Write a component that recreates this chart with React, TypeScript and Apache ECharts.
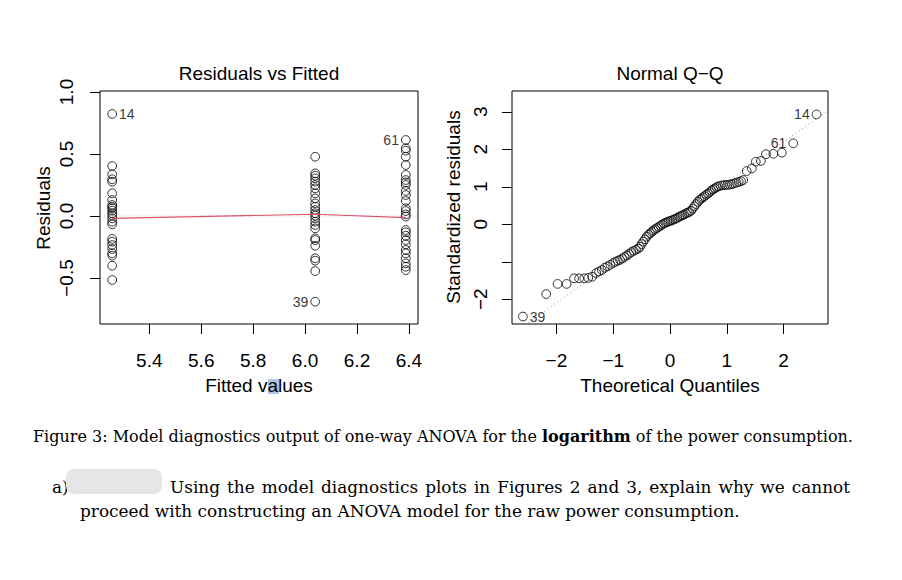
import React, { useEffect, useRef } from "react";
import * as echarts from "echarts";

// ---- Residuals vs Fitted data ----
const fittedLevels = [5.257, 6.039, 6.388];
const residualsGroup1 = [0.823, 0.403, 0.336, 0.296, 0.277, 0.183, 0.129, 0.089, 0.075, 0.062, 0.043, 0.022, 0.003, -0.019, -0.046, -0.067, -0.185, -0.207, -0.234, -0.266, -0.301, -0.32, -0.401, -0.516];
const residualsGroup2 = [0.478, 0.344, 0.325, 0.304, 0.277, 0.25, 0.223, 0.183, 0.142, 0.102, 0.075, 0.048, 0.022, 0.003, -0.019, -0.046, -0.073, -0.1, -0.18, -0.194, -0.24, -0.341, -0.36, -0.444, -0.691];
const residualsGroup3 = [0.613, 0.546, 0.527, 0.478, 0.411, 0.331, 0.29, 0.271, 0.25, 0.202, 0.169, 0.121, 0.062, 0.04, 0.013, -0.005, -0.113, -0.132, -0.159, -0.194, -0.229, -0.274, -0.301, -0.341, -0.382, -0.409, -0.436];
const smoothX = [5.257, 6.039, 6.388];
const smoothY = [-0.019, 0.014, -0.013];
// labelled observations: [group index, residual, id, side]
const residLabels: [number, number, string, string][] = [
  [0, 0.823, "14", "right"],
  [1, -0.691, "39", "left"],
  [2, 0.613, "61", "left"],
];

const leftXTicks = [5.4, 5.6, 5.8, 6.0, 6.2, 6.4];
const leftXTickLabels = ["5.4", "5.6", "5.8", "6.0", "6.2", "6.4"];
const leftYTicks = [-0.5, 0, 0.5, 1.0];
const leftYTickLabels = ["\u22120.5", "0.0", "0.5", "1.0"];

// ---- Normal Q-Q data ----
const qqTheoretical = [-2.59, -2.18, -1.98, -1.82, -1.69, -1.6, -1.51, -1.44, -1.37, -1.3, -1.25, -1.2, -1.15, -1.1, -1.05, -1.0, -0.96, -0.92, -0.88, -0.84, -0.8, -0.76, -0.72, -0.68, -0.64, -0.6, -0.56, -0.53, -0.5, -0.47, -0.44, -0.41, -0.38, -0.35, -0.32, -0.29, -0.26, -0.23, -0.2, -0.17, -0.14, -0.11, -0.08, -0.05, -0.02, 0.01, 0.04, 0.07, 0.1, 0.13, 0.16, 0.19, 0.22, 0.25, 0.28, 0.31, 0.34, 0.37, 0.4, 0.43, 0.46, 0.49, 0.52, 0.55, 0.58, 0.61, 0.64, 0.67, 0.7, 0.73, 0.76, 0.79, 0.82, 0.85, 0.89, 0.93, 0.97, 1.01, 1.05, 1.09, 1.13, 1.17, 1.21, 1.25, 1.29, 1.35, 1.44, 1.51, 1.6, 1.69, 1.82, 1.97, 2.17, 2.58];
const qqSample = [-2.46, -1.86, -1.59, -1.59, -1.44, -1.44, -1.44, -1.43, -1.4, -1.3, -1.26, -1.22, -1.16, -1.12, -1.08, -1.03, -1.0, -0.97, -0.95, -0.91, -0.87, -0.83, -0.79, -0.74, -0.71, -0.68, -0.65, -0.6, -0.53, -0.46, -0.4, -0.33, -0.28, -0.24, -0.2, -0.16, -0.13, -0.1, -0.07, -0.04, -0.01, 0.02, 0.04, 0.06, 0.08, 0.09, 0.11, 0.13, 0.15, 0.17, 0.2, 0.22, 0.24, 0.26, 0.29, 0.31, 0.33, 0.36, 0.42, 0.48, 0.54, 0.6, 0.65, 0.68, 0.72, 0.75, 0.79, 0.82, 0.86, 0.9, 0.93, 0.96, 0.99, 1.01, 1.03, 1.04, 1.05, 1.05, 1.06, 1.07, 1.09, 1.11, 1.13, 1.15, 1.18, 1.42, 1.49, 1.67, 1.69, 1.87, 1.88, 1.91, 2.16, 2.93];
// labelled observations: [index in sorted list, id, side]
const qqLabels: [number, string, string][] = [
  [0, "39", "right"],
  [92, "61", "left"],
  [93, "14", "left"],
];
const qqLineX = [-2.79, 2.79];
const qqLineY = [-2.94, 3.04];

const rightXTicks = [-2, -1, 0, 1, 2];
const rightXTickLabels = ["\u22122", "\u22121", "0", "1", "2"];
const rightYTicks = [-2, -1, 0, 1, 2, 3];
const rightYTickLabels = ["\u22122", "", "0", "1", "2", "3"];

const captionText = "Figure 3: Model diagnostics output of one-way ANOVA for the {b|logarithm} of the power consumption.";
const paraLine1 = "Using the model diagnostics plots in Figures 2 and 3, explain why we cannot";
const paraLine2 = "proceed with constructing an ANOVA model for the raw power consumption.";

const SANS = "'Liberation Sans', Arial, sans-serif";
const SERIF = "'DejaVu Serif', serif";

function labelFor(ticks: number[], labels: string[]) {
  return (v: number) => {
    const i = ticks.findIndex((t) => Math.abs(t - v) < 1e-9);
    return i >= 0 ? labels[i] : "";
  };
}

// justify a line of words between x0 and x1 (like LaTeX)
function justifiedWords(line: string, x0: number, x1: number, y: number, font: string) {
  const words = line.split(" ");
  const ctx = document.createElement("canvas").getContext("2d");
  let widths = words.map((w) => w.length * 9);
  if (ctx) {
    ctx.font = font;
    widths = words.map((w) => ctx.measureText(w).width);
  }
  const total = widths.reduce((a, b) => a + b, 0);
  const gap = (x1 - x0 - total) / (words.length - 1);
  let x = x0;
  return words.map((w, i) => {
    const el = { type: "text", x, y, style: { text: w, font, fill: "#000", align: "left", verticalAlign: "middle" } };
    x += widths[i] + gap;
    return el;
  });
}

const circleStyle = { color: "transparent", borderColor: "#000", borderWidth: 1 };

export default function App() {
  const ref = useRef<HTMLDivElement>(null);
  useEffect(() => {
    if (!ref.current) return;
    const chart = echarts.init(ref.current, undefined, { renderer: "svg" });

    const idLabel = (text: string, pos: string) => ({
      show: true, formatter: text, position: pos, distance: 2, fontSize: 14, fontFamily: SANS, color: "#000",
    });

    const residGroups = [residualsGroup1, residualsGroup2, residualsGroup3];
    const residData: any[] = [];
    residGroups.forEach((g, gi) => {
      g.forEach((r) => {
        const lab = residLabels.find((l) => l[0] === gi && l[1] === r);
        if (lab) residData.push({ value: [fittedLevels[gi], r], label: idLabel(lab[2], lab[3]) });
        else residData.push([fittedLevels[gi], r]);
      });
    });

    const qqData: any[] = qqTheoretical.map((x, i) => {
      const lab = qqLabels.find((l) => l[0] === i);
      if (lab) return { value: [x, qqSample[i]], label: idLabel(lab[1], lab[2]) };
      return [x, qqSample[i]];
    });

    const axisCommon = {
      axisLine: { show: false, onZero: false },
      splitLine: { show: false },
      axisTick: { show: true, length: 10, lineStyle: { color: "#000", width: 1 } },
    };

    const textStyle = (size: number) => ({ fontFamily: SANS, fontSize: size, color: "#000" });
    const paraFont = `16.9px ${SERIF}`;

    chart.setOption({
      animation: false,
      backgroundColor: "#fff",
      grid: [
        { left: 100, top: 91, width: 318, height: 233, show: true, borderColor: "#000", borderWidth: 1, backgroundColor: "transparent" },
        { left: 512, top: 91, width: 316, height: 233, show: true, borderColor: "#000", borderWidth: 1, backgroundColor: "transparent" },
      ],
      xAxis: [
        {
          type: "value", gridIndex: 0, min: 5.21, max: 6.435, ...axisCommon,
          axisTick: { ...axisCommon.axisTick, customValues: leftXTicks },
          axisLabel: { ...textStyle(19), margin: 27, customValues: leftXTicks, formatter: labelFor(leftXTicks, leftXTickLabels) },
        },
        {
          type: "value", gridIndex: 1, min: -2.782, max: 2.782, ...axisCommon,
          axisTick: { ...axisCommon.axisTick, customValues: rightXTicks },
          axisLabel: { ...textStyle(19), margin: 27, customValues: rightXTicks, formatter: labelFor(rightXTicks, rightXTickLabels) },
        },
      ],
      yAxis: [
        {
          type: "value", gridIndex: 0, min: -0.871, max: 1.008, ...axisCommon,
          axisTick: { ...axisCommon.axisTick, customValues: leftYTicks },
          axisLabel: { ...textStyle(19), margin: 24, rotate: 90, customValues: leftYTicks, formatter: labelFor(leftYTicks, leftYTickLabels) },
        },
        {
          type: "value", gridIndex: 1, min: -2.659, max: 3.555, ...axisCommon,
          axisTick: { ...axisCommon.axisTick, customValues: rightYTicks },
          axisLabel: { ...textStyle(19), margin: 22, rotate: 90, customValues: rightYTicks, formatter: labelFor(rightYTicks, rightYTickLabels) },
        },
      ],
      series: [
        {
          type: "line", xAxisIndex: 0, yAxisIndex: 0, data: [[5.21, 0], [6.435, 0]], symbol: "none",
          lineStyle: { color: "#bebebe", width: 1, type: [1, 3] }, silent: true, z: 1,
        },
        {
          type: "scatter", xAxisIndex: 0, yAxisIndex: 0, data: residData, symbol: "circle", symbolSize: 8.7,
          itemStyle: circleStyle, z: 2,
        },
        {
          type: "line", xAxisIndex: 0, yAxisIndex: 0, data: smoothX.map((x, i) => [x, smoothY[i]]), symbol: "none",
          lineStyle: { color: "#DF536B", width: 1.2 }, z: 3,
        },
        {
          type: "line", xAxisIndex: 1, yAxisIndex: 1, data: qqLineX.map((x, i) => [x, qqLineY[i]]), symbol: "none",
          lineStyle: { color: "#8e8e8e", width: 1, type: [1, 3] }, clip: true, z: 1,
        },
        {
          type: "scatter", xAxisIndex: 1, yAxisIndex: 1, data: qqData, symbol: "circle", symbolSize: 8.7,
          itemStyle: circleStyle, z: 2,
        },
      ],
      graphic: [
        { type: "text", x: 259, y: 73, style: { text: "Residuals vs Fitted", font: `19px ${SANS}`, fill: "#000", align: "center", verticalAlign: "middle" } },
        { type: "text", x: 670, y: 73, style: { text: "Normal Q\u2212Q", font: `19px ${SANS}`, fill: "#000", align: "center", verticalAlign: "middle" } },
        { type: "rect", shape: { x: 268, y: 379, width: 11, height: 15 }, style: { fill: "rgba(110,150,200,0.55)" } },
        { type: "text", x: 259, y: 385, style: { text: "Fitted values", font: `19px ${SANS}`, fill: "#000", align: "center", verticalAlign: "middle" } },
        { type: "text", x: 670, y: 385, style: { text: "Theoretical Quantiles", font: `19px ${SANS}`, fill: "#000", align: "center", verticalAlign: "middle" } },
        { type: "text", x: 43, y: 208, rotation: Math.PI / 2, style: { text: "Residuals", font: `19px ${SANS}`, fill: "#000", align: "center", verticalAlign: "middle" } },
        { type: "text", x: 453, y: 207, rotation: Math.PI / 2, style: { text: "Standardized residuals", font: `19px ${SANS}`, fill: "#000", align: "center", verticalAlign: "middle" } },
        {
          type: "text", x: 33, y: 436,
          style: {
            text: captionText,
            font: `16px ${SERIF}`, fill: "#000", align: "left", verticalAlign: "middle",
            rich: { b: { fontWeight: "bold", fontFamily: SERIF, fontSize: 16 } },
          },
        },
        { type: "text", x: 52, y: 487, style: { text: "a)", font: paraFont, fill: "#000", align: "left", verticalAlign: "middle" } },
        { type: "rect", shape: { x: 66, y: 469, width: 96, height: 25, r: 8 }, style: { fill: "#e6e6e6" } },
        ...justifiedWords(paraLine1, 170, 850, 487, paraFont),
        { type: "text", x: 80, y: 511, style: { text: paraLine2, font: paraFont, fill: "#000", align: "left", verticalAlign: "middle" } },
      ],
    });
    return () => chart.dispose();
  }, []);
  return <div ref={ref} style={{ position: "absolute", left: 0, top: 0, width: 902, height: 580 }} />;
}
